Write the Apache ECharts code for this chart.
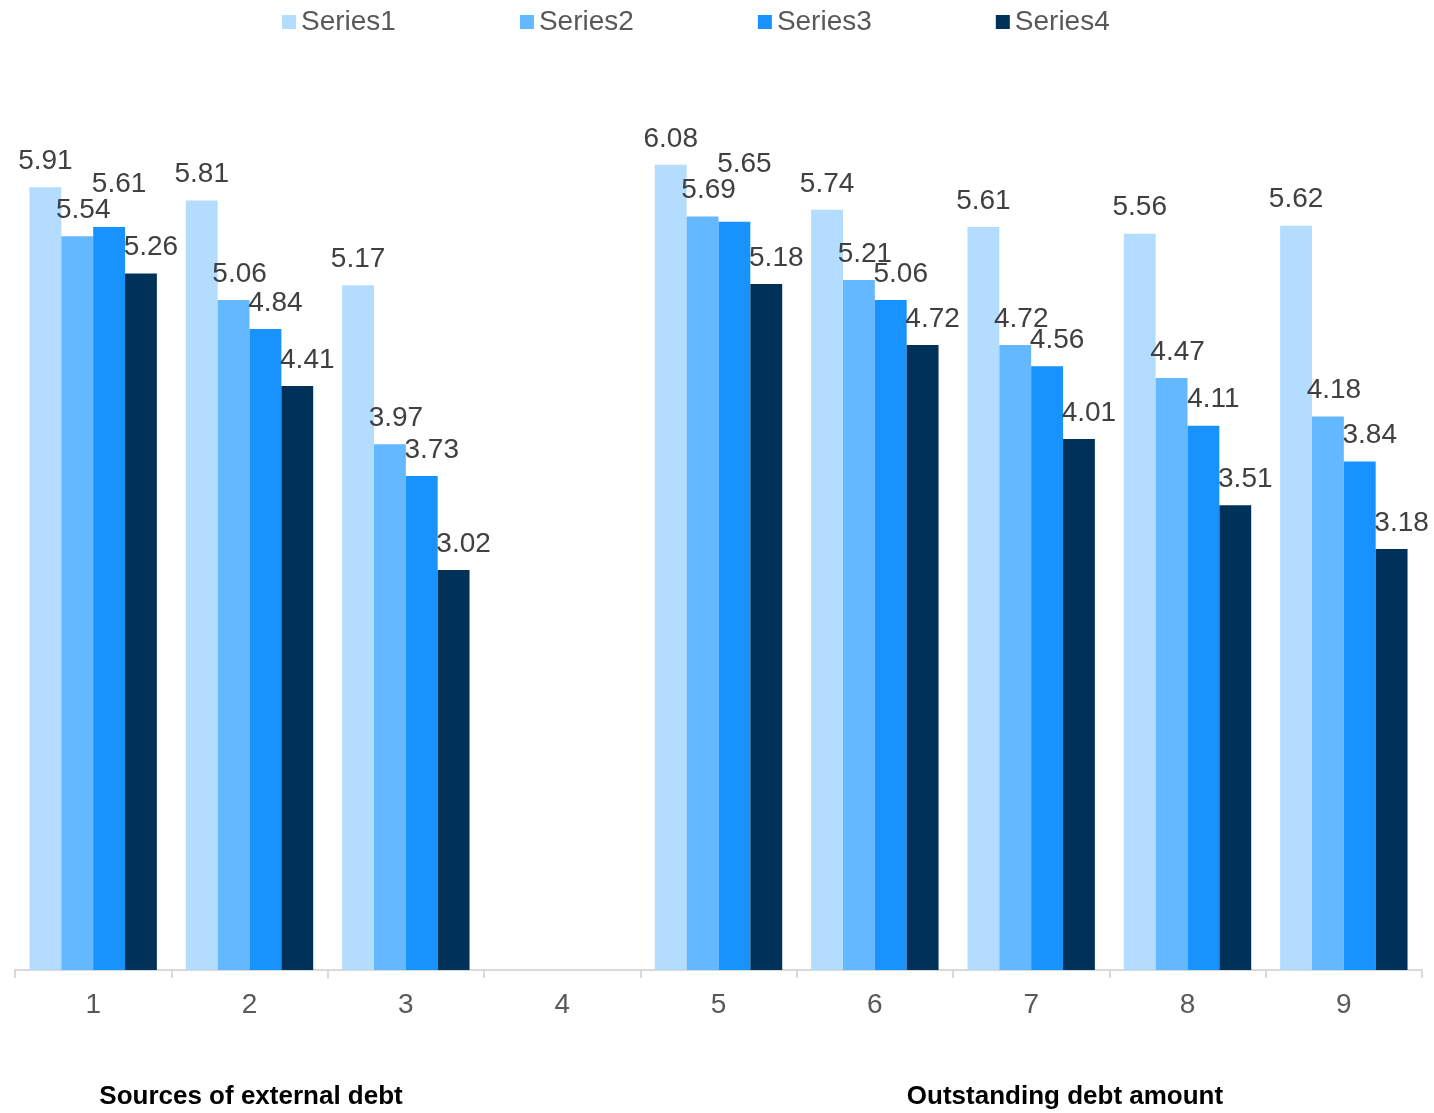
<!DOCTYPE html>
<html>
<head>
<meta charset="utf-8">
<script src="https://cdn.jsdelivr.net/npm/echarts@6/dist/echarts.min.js"></script>
<style>
html,body{margin:0;padding:0;background:#fff;}
#chart{width:1434px;height:1113px;}
</style>
</head>
<body>
<div id="chart"></div>
<script>
var categories = ['1','2','3','4','5','6','7','8','9'];
var seriesNames = ['Series1','Series2','Series3','Series4'];
var series1 = [5.91, 5.81, 5.17, null, 6.08, 5.74, 5.61, 5.56, 5.62];
var series2 = [5.54, 5.06, 3.97, null, 5.69, 5.21, 4.72, 4.47, 4.18];
var series3 = [5.61, 4.84, 3.73, null, 5.65, 5.06, 4.56, 4.11, 3.84];
var series4 = [5.26, 4.41, 3.02, null, 5.18, 4.72, 4.01, 3.51, 3.18];
var groupLabels = ['Sources of external debt', 'Outstanding debt amount'];

var colors = ['#B3DCFF', '#63B8FF', '#1893FE', '#003259'];
var labelShiftX = [0, 6, 10, 10];
var FONT = '"Liberation Sans", Arial, sans-serif';

var chart = echarts.init(document.getElementById('chart'));
var allData = [series1, series2, series3, series4];

// shift labels right per series; lift a label above the previous series' label when glyphs collide
var placed = {};
function layoutLabel(p) {
  var r = p.labelRect;
  var dx = labelShiftX[p.seriesIndex] || 0;
  var x = r.x + dx;
  var cy = r.y + r.height / 2;
  var dy = 0;
  var prev = placed[p.dataIndex + '_' + (p.seriesIndex - 1)];
  if (prev) {
    var hOverlap = x < prev.x + prev.width - 4 && x + r.width > prev.x + 4;
    if (hOverlap && Math.abs(cy - prev.cy) < 16) {
      dy = (prev.cy - 26) - cy;
    }
  }
  placed[p.dataIndex + '_' + p.seriesIndex] = { x: x, width: r.width, cy: cy + dy };
  return { dx: dx, dy: dy };
}

var option = {
  animation: false,
  color: colors,
  textStyle: { fontFamily: FONT },
  legend: {
    top: 3,
    left: 277,
    itemWidth: 14,
    itemHeight: 14,
    itemGap: 124,
    icon: 'rect',
    textStyle: { fontSize: 28, color: '#595959', fontFamily: FONT },
    data: seriesNames
  },
  grid: { left: 15, right: 12, top: 43, bottom: 143, containLabel: false },
  xAxis: {
    type: 'category',
    data: categories,
    axisLine: { show: true, lineStyle: { color: '#D9D9D9', width: 2 } },
    axisTick: { show: true, length: 8, lineStyle: { color: '#D9D9D9', width: 2 } },
    axisLabel: { fontSize: 28, color: '#595959', margin: 21, fontFamily: FONT }
  },
  yAxis: {
    type: 'value',
    min: 0,
    max: 7,
    show: false,
    splitLine: { show: false }
  },
  series: allData.map(function (d, i) {
    return {
      name: seriesNames[i],
      type: 'bar',
      data: d,
      barGap: '0%',
      barCategoryGap: '18.5%',
      itemStyle: { color: colors[i] },
      labelLayout: layoutLabel,
      label: {
        show: true,
        position: 'top',
        distance: 12,
        fontSize: 28,
        color: '#404040',
        fontFamily: FONT
      }
    };
  }),
  graphic: [
    {
      type: 'text',
      style: {
        text: groupLabels[0], fontSize: 26, fontWeight: 'bold', fill: '#000',
        fontFamily: FONT, textAlign: 'center', textVerticalAlign: 'middle'
      },
      x: 251, y: 1097
    },
    {
      type: 'text',
      style: {
        text: groupLabels[1], fontSize: 26, fontWeight: 'bold', fill: '#000',
        fontFamily: FONT, textAlign: 'center', textVerticalAlign: 'middle'
      },
      x: 1065, y: 1097
    }
  ]
};
chart.setOption(option);
</script>
</body>
</html>
